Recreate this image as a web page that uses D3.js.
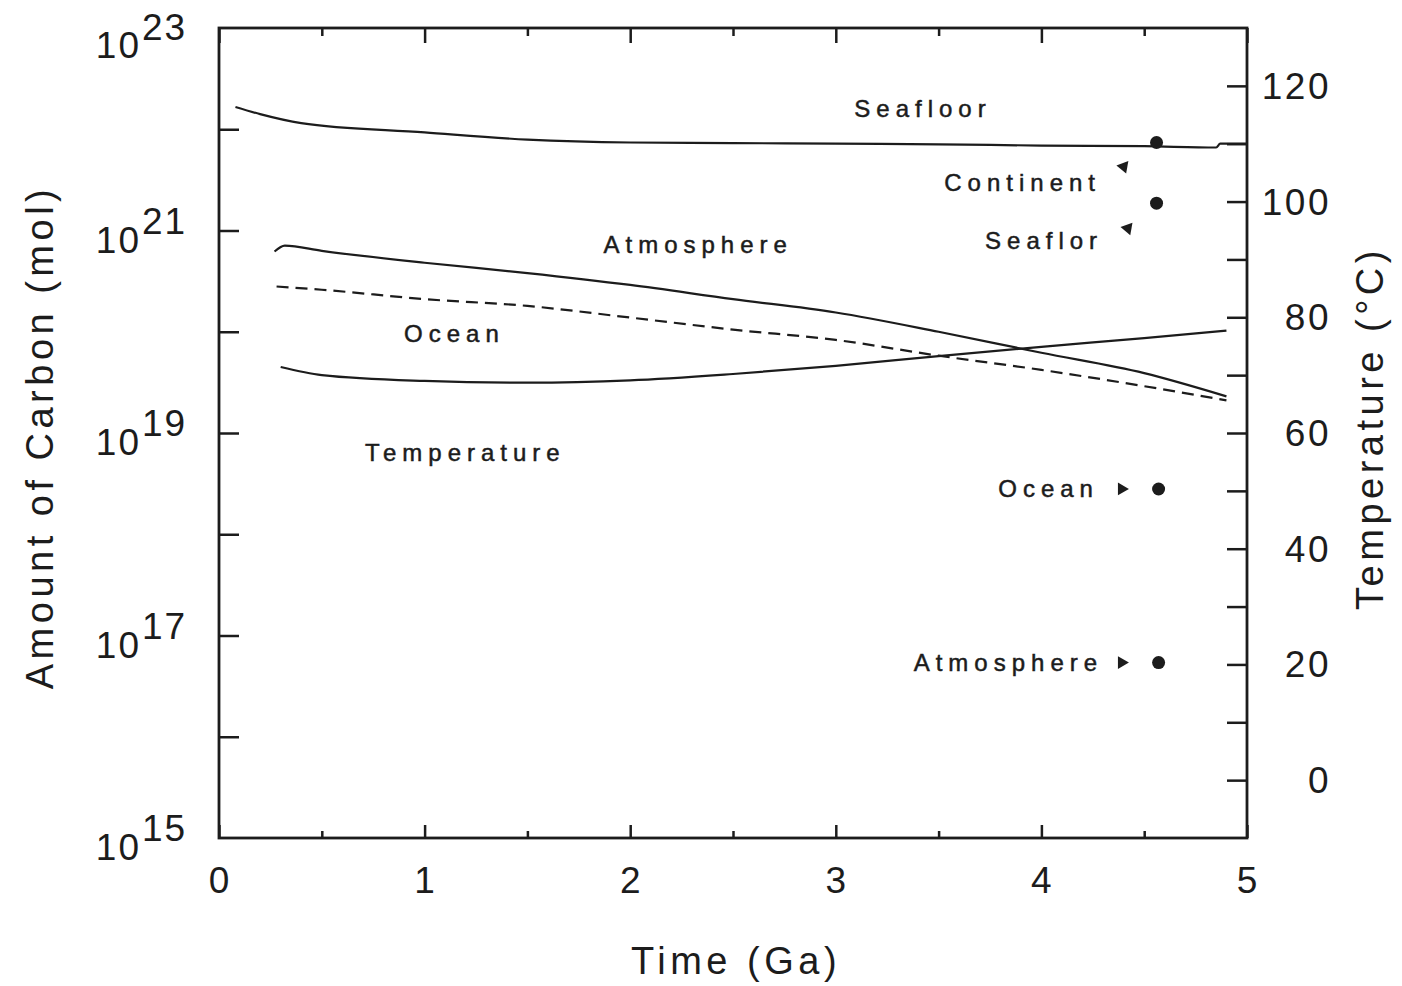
<!DOCTYPE html>
<html>
<head>
<meta charset="utf-8">
<script src="https://cdn.jsdelivr.net/npm/d3@7"></script>
<style>
  body { margin: 0; background: #fff; }
  svg { display: block; font-family: "Liberation Sans", Arial, sans-serif; }
</style>
</head>
<body>
<svg width="1402" height="986"></svg>
<script>
// ---- data ----
// time in Ga, carbon in mol, temperature in degC
const seafloorTime = [0.08, 0.2, 0.4, 1.0, 1.5, 2.0, 2.5, 3.0, 3.5, 4.0, 4.5, 4.85, 4.87, 5.0];
const seafloorMol  = [1.66e22, 1.41e22, 1.15e22, 9.3e21, 7.9e21, 7.4e21, 7.3e21, 7.2e21, 7.1e21, 6.9e21, 6.8e21, 6.6e21, 7.2e21, 7.2e21];

const atmosTime = [0.27, 0.32, 0.5, 1.0, 1.5, 2.0, 2.5, 3.0, 3.5, 4.0, 4.5, 4.9];
const atmosMol  = [6.2e20, 7.1e20, 6.3e20, 4.8e20, 3.8e20, 2.9e20, 2.1e20, 1.55e20, 1.0e20, 6.2e19, 3.9e19, 2.3e19];

const oceanTime = [0.28, 0.5, 1.0, 1.5, 2.0, 2.5, 3.0, 3.5, 4.0, 4.5, 4.9];
const oceanMol  = [2.8e20, 2.6e20, 2.1e20, 1.8e20, 1.38e20, 1.05e20, 8.3e19, 5.8e19, 4.2e19, 2.9e19, 2.1e19];

const tempTime = [0.3, 0.5, 1.0, 1.5, 2.0, 2.5, 3.0, 3.5, 4.0, 4.5, 4.9];
const tempC    = [71.4, 70.0, 69.0, 68.7, 69.1, 70.2, 71.6, 73.3, 74.9, 76.4, 77.7];

// present-day reservoirs (dots)
const presentNames = ["Seafloor", "Continent", "Ocean", "Atmosphere"];
const presentTime  = [4.56, 4.56, 4.57, 4.57];
const presentMol   = [7.4e21, 1.86e21, 2.8e18, 5.4e16];

const xTicksMajor = [0, 1, 2, 3, 4, 5];
const xTicksMinor = [0.5, 1.5, 2.5, 3.5, 4.5];
const carbonExp   = [15, 17, 19, 21, 23];
const carbonTicks = [1e16, 1e17, 1e18, 1e19, 1e20, 1e21, 1e22];
const tempLabels  = [0, 20, 40, 60, 80, 100, 120];
const tempTicks   = [0, 10, 20, 30, 40, 50, 60, 70, 80, 90, 100, 110, 120];

// ---- layout ----
const L = 219, R = 1247, T = 28, B = 838;
const ink = "#1c1c1c";

const svg = d3.select("svg");

const x = d3.scaleLinear().domain([0, 5]).range([L, R]);
const yC = d3.scaleLog().domain([1e15, 1e23]).range([B, T]);
const yT = d3.scaleLinear().domain([-10, 130]).range([B, T]);

// ticks (all pointing inward)
function styleAxis(g) {
  g.select(".domain").remove();
  g.selectAll("line").attr("stroke", ink).attr("stroke-width", 2.5);
  g.selectAll("text").remove();
}
svg.append("g").attr("transform", `translate(${L},0)`)
  .call(d3.axisRight(yC).tickValues(carbonTicks).tickSize(20).tickFormat(""))
  .call(styleAxis);
svg.append("g").attr("transform", `translate(${R},0)`)
  .call(d3.axisLeft(yT).tickValues(tempTicks).tickSize(20).tickFormat(""))
  .call(styleAxis);
svg.append("g").attr("transform", `translate(0,${B})`)
  .call(d3.axisTop(x).tickValues(xTicksMajor).tickSize(13).tickFormat(""))
  .call(styleAxis);
svg.append("g").attr("transform", `translate(0,${B})`)
  .call(d3.axisTop(x).tickValues(xTicksMinor).tickSize(7).tickFormat(""))
  .call(styleAxis);
svg.append("g").attr("transform", `translate(0,${T})`)
  .call(d3.axisBottom(x).tickValues(xTicksMajor).tickSize(15).tickFormat(""))
  .call(styleAxis);
svg.append("g").attr("transform", `translate(0,${T})`)
  .call(d3.axisBottom(x).tickValues(xTicksMinor).tickSize(8).tickFormat(""))
  .call(styleAxis);

// frame
svg.append("rect")
  .attr("x", L).attr("y", T).attr("width", R - L).attr("height", B - T)
  .attr("fill", "none").attr("stroke", ink).attr("stroke-width", 2.8);

// tick labels
const tickFont = 37;
svg.append("g").selectAll("text").data(xTicksMajor).join("text")
  .attr("x", d => x(d)).attr("y", B + 55)
  .attr("text-anchor", "middle")
  .attr("font-size", tickFont).attr("fill", ink)
  .text(d => d);

// 10^n labels, kept inside the page at the top
const expLabels = svg.append("g").selectAll("text").data(carbonExp).join("text")
  .attr("font-size", tickFont).attr("fill", ink).attr("letter-spacing", 2);
expLabels.append("tspan")
  .attr("x", 141).attr("y", d => Math.max(yC(Math.pow(10, d)) + 22, 58))
  .attr("text-anchor", "end").text("10");
expLabels.append("tspan")
  .attr("x", 142).attr("y", d => Math.max(yC(Math.pow(10, d)) + 3, 40))
  .text(d => d);

svg.append("g").selectAll("text").data(tempLabels).join("text")
  .attr("x", 1331).attr("y", d => yT(d) + 13)
  .attr("text-anchor", "end")
  .attr("font-size", tickFont).attr("fill", ink).attr("letter-spacing", 2.5)
  .text(d => d);

// axis titles
svg.append("text")
  .attr("transform", `translate(53,437) rotate(-90)`)
  .attr("text-anchor", "middle").attr("font-size", 38).attr("letter-spacing", 4.5)
  .attr("fill", ink).text("Amount of Carbon (mol)");
svg.append("text")
  .attr("transform", `translate(1383,428) rotate(-90)`)
  .attr("text-anchor", "middle").attr("font-size", 38).attr("letter-spacing", 4.5)
  .attr("fill", ink).text("Temperature (°C)");
svg.append("text")
  .attr("x", 736).attr("y", 974)
  .attr("text-anchor", "middle").attr("font-size", 38).attr("letter-spacing", 4.5)
  .attr("fill", ink).text("Time (Ga)");

// curves
const carbonLine = d3.line().x(d => x(d[0])).y(d => yC(d[1])).curve(d3.curveMonotoneX);
const tempLine = d3.line().x(d => x(d[0])).y(d => yT(d[1])).curve(d3.curveMonotoneX);

const plot = svg.append("g").attr("fill", "none").attr("stroke", ink).attr("stroke-width", 2.2);
plot.append("path").attr("d", carbonLine(d3.zip(seafloorTime, seafloorMol)));
plot.append("path").attr("d", carbonLine(d3.zip(atmosTime, atmosMol)));
plot.append("path").attr("d", carbonLine(d3.zip(oceanTime, oceanMol)))
  .attr("stroke-dasharray", "12,7");
plot.append("path").attr("d", tempLine(d3.zip(tempTime, tempC)));

// present-day dots
svg.append("g").selectAll("circle").data(d3.zip(presentTime, presentMol)).join("circle")
  .attr("cx", d => x(d[0])).attr("cy", d => yC(d[1]))
  .attr("r", 6.5).attr("fill", ink);

// small arrowheads next to the labels: [time, mol, rotation]
const arrowTime = [4.40, 4.42, 4.39, 4.39];
const arrowMol  = [4.27e21, 1.05e21, 2.8e18, 5.4e16];
const arrowRot  = [-80, -80, 90, 90];
svg.append("g").selectAll("path").data(d3.range(arrowTime.length)).join("path")
  .attr("d", d3.symbol(d3.symbolTriangle, 70))
  .attr("transform", i => `translate(${x(arrowTime[i])},${yC(arrowMol[i])}) rotate(${arrowRot[i]})`)
  .attr("fill", ink);

// in-plot labels
const labelFont = 24, labelSpace = 6;
const labels = [
  {text: "Seafloor",    t: 3.09, v: 1.62e22, anchor: "start"},
  {text: "Atmosphere",  t: 1.87, v: 7.2e20,  anchor: "start"},
  {text: "Ocean",       t: 0.90, v: 9.6e19,  anchor: "start"},
  {text: "Temperature", t: 0.71, v: 6.4e18,  anchor: "start"},
  {text: "Continent",   t: 4.29, v: 3.0e21,  anchor: "end"},
  {text: "Seaflor",     t: 4.30, v: 8.0e20,  anchor: "end"},
  {text: "Ocean",       t: 4.28, v: 2.8e18,  anchor: "end"},
  {text: "Atmosphere",  t: 4.30, v: 5.4e16,  anchor: "end"}
];
svg.append("g").selectAll("text").data(labels).join("text")
  .attr("x", d => x(d.t)).attr("y", d => yC(d.v) + 8.5)
  .attr("text-anchor", d => d.anchor)
  .attr("font-size", labelFont).attr("letter-spacing", labelSpace)
  .attr("fill", ink).attr("stroke", ink).attr("stroke-width", 0.5)
  .text(d => d.text);
</script>
</body>
</html>
